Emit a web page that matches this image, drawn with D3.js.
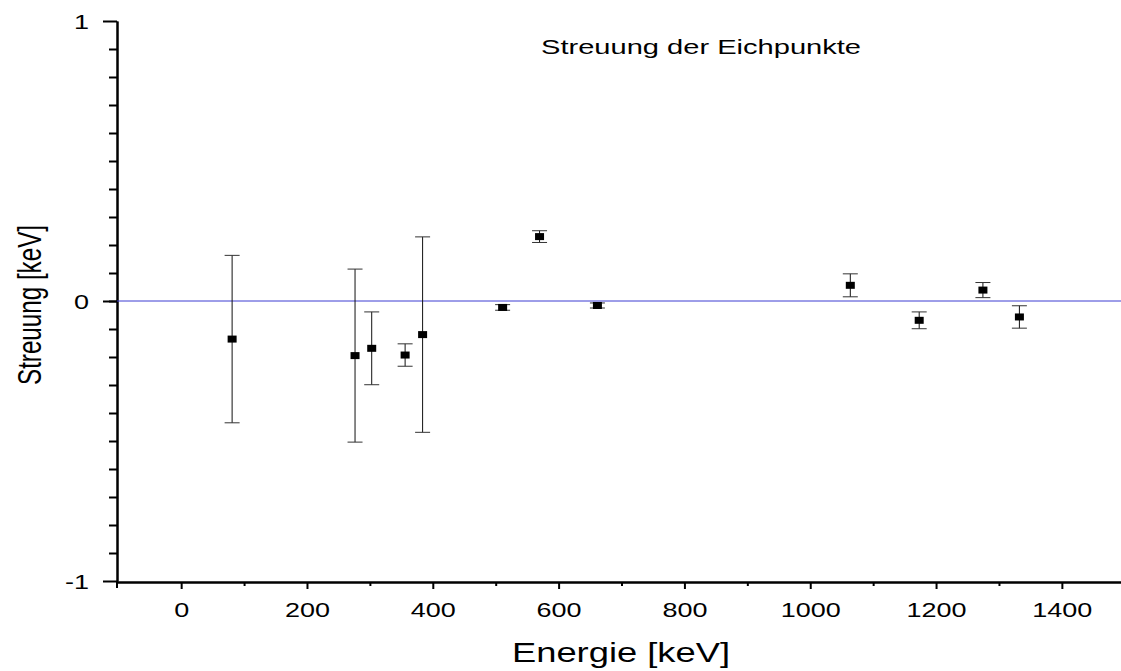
<!doctype html>
<html>
<head>
    <meta charset="utf-8">
    <style>
        body { margin: 0; background: #fff; }
        text { font-family: "Liberation Sans", Arial, sans-serif; fill: #000; }
    </style>
    <script src="https://d3js.org/d3.v7.min.js"></script>
</head>
<body>
<svg width="1121" height="671"></svg>
<script>

    // calibration points: energy, residual and its error (keV)
    var energies  = [81.0, 276.4, 302.9, 356.0, 383.8, 511.0, 569.7, 661.7, 1063.7, 1173.2, 1274.5, 1332.5];
    var residuals = [-0.136, -0.195, -0.169, -0.193, -0.120, -0.023, 0.230, -0.016, 0.056, -0.069, 0.039, -0.057];
    var errors    = [0.299, 0.309, 0.130, 0.040, 0.349, 0.010, 0.021, 0.009, 0.041, 0.030, 0.027, 0.040];

    var xMajorTicks = [0, 200, 400, 600, 800, 1000, 1200, 1400];
    var xMinorTicks = [100, 300, 500, 700, 900, 1100, 1300];
    var yMajorTicks = [-1, 0, 1];
    var yMinorTicks = d3.range(-9, 10).map(function(d) { return d / 10; });

    var data = energies.map(function(e, i) {
        return {x: e, y: residuals[i], err: errors[i]};
    });

    var svg = d3.select("svg");
    var stretch = 1.35;  // the original figure is stretched horizontally

    var x = d3.scaleLinear().domain([-102, 1494]).range([117, 1121]),
        y = d3.scaleLinear().domain([-1, 1]).range([581, 21]);

    // x axis: minor then major ticks
    svg.append("g")
        .attr("class", "axis")
        .attr("transform", "translate(0," + 582 + ")")
        .call(d3.axisBottom(x).tickValues(xMinorTicks).tickSize(4).tickSizeOuter(0).tickFormat(""));

    var xAxis = svg.append("g")
        .attr("class", "axis")
        .attr("transform", "translate(0," + 582 + ")")
        .call(d3.axisBottom(x).tickValues(xMajorTicks).tickSize(7).tickSizeOuter(0)
            .tickFormat(function(d) { return String(d); }));

    xAxis.selectAll("text")
        .attr("y", 0)
        .attr("dy", 35)
        .attr("transform", "scale(" + stretch + ",1)")
        .style("font-size", "20px");

    // y axis
    svg.append("g")
        .attr("class", "axis")
        .attr("transform", "translate(" + 117 + ",0)")
        .call(d3.axisLeft(y).tickValues(yMinorTicks).tickSize(8).tickSizeOuter(0).tickFormat(""));

    var yAxis = svg.append("g")
        .attr("class", "axis")
        .attr("transform", "translate(" + 117 + ",0)")
        .call(d3.axisLeft(y).tickValues(yMajorTicks).tickSize(14).tickSizeOuter(0)
            .tickFormat(function(d) { return String(d); }));

    yAxis.selectAll("text")
        .attr("x", -28 / stretch)
        .attr("dy", "0.35em")
        .attr("transform", "scale(" + stretch + ",1)")
        .style("font-size", "20px");

    svg.selectAll(".axis .domain, .axis .tick line")
        .attr("stroke", "#000")
        .attr("stroke-width", 2);

    // axis line runs a little below the x axis
    svg.append("line")
        .attr("x1", x(-102)).attr("x2", x(-102))
        .attr("y1", y(-1)).attr("y2", y(-1) + 7)
        .attr("stroke", "#000")
        .attr("stroke-width", 2);

    // zero line
    svg.append("line")
        .attr("x1", x(-102)).attr("x2", x(1494))
        .attr("y1", y(0)).attr("y2", y(0))
        .attr("stroke", "#3c3cd2")
        .attr("stroke-width", 1);

    // error bars
    var bars = svg.append("g").selectAll("g")
        .data(data)
        .enter().append("g");

    bars.append("line")
        .attr("x1", function(d) { return x(d.x); })
        .attr("x2", function(d) { return x(d.x); })
        .attr("y1", function(d) { return y(d.y + d.err); })
        .attr("y2", function(d) { return y(d.y - d.err); })
        .attr("stroke", "#111");

    bars.selectAll(".cap")
        .data(function(d) { return [d.y + d.err, d.y - d.err].map(function(v) { return {x: d.x, v: v}; }); })
        .enter().append("line")
        .attr("class", "cap")
        .attr("x1", function(d) { return x(d.x) - 7.5; })
        .attr("x2", function(d) { return x(d.x) + 7.5; })
        .attr("y1", function(d) { return y(d.v); })
        .attr("y2", function(d) { return y(d.v); })
        .attr("stroke", "#333");

    // square markers
    svg.append("g").selectAll("rect")
        .data(data)
        .enter().append("rect")
        .attr("x", function(d) { return x(d.x) - 4.5; })
        .attr("y", function(d) { return y(d.y) - 3.5; })
        .attr("width", 9)
        .attr("height", 7)
        .attr("fill", "#000");

    // labels
    svg.append("text")
        .attr("x", 541)
        .attr("y", 54)
        .attr("textLength", 320)
        .attr("lengthAdjust", "spacingAndGlyphs")
        .style("font-size", "21px")
        .text("Streuung der Eichpunkte");

    svg.append("text")
        .attr("x", 512)
        .attr("y", 662)
        .attr("textLength", 218)
        .attr("lengthAdjust", "spacingAndGlyphs")
        .style("font-size", "27px")
        .text("Energie [keV]");

    svg.append("text")
        .attr("transform", "translate(41,305) scale(" + stretch + ",1) rotate(-90)")
        .attr("text-anchor", "middle")
        .attr("textLength", 160)
        .attr("lengthAdjust", "spacingAndGlyphs")
        .style("font-size", "24px")
        .text("Streuung [keV]");

</script>
</body>
</html>
